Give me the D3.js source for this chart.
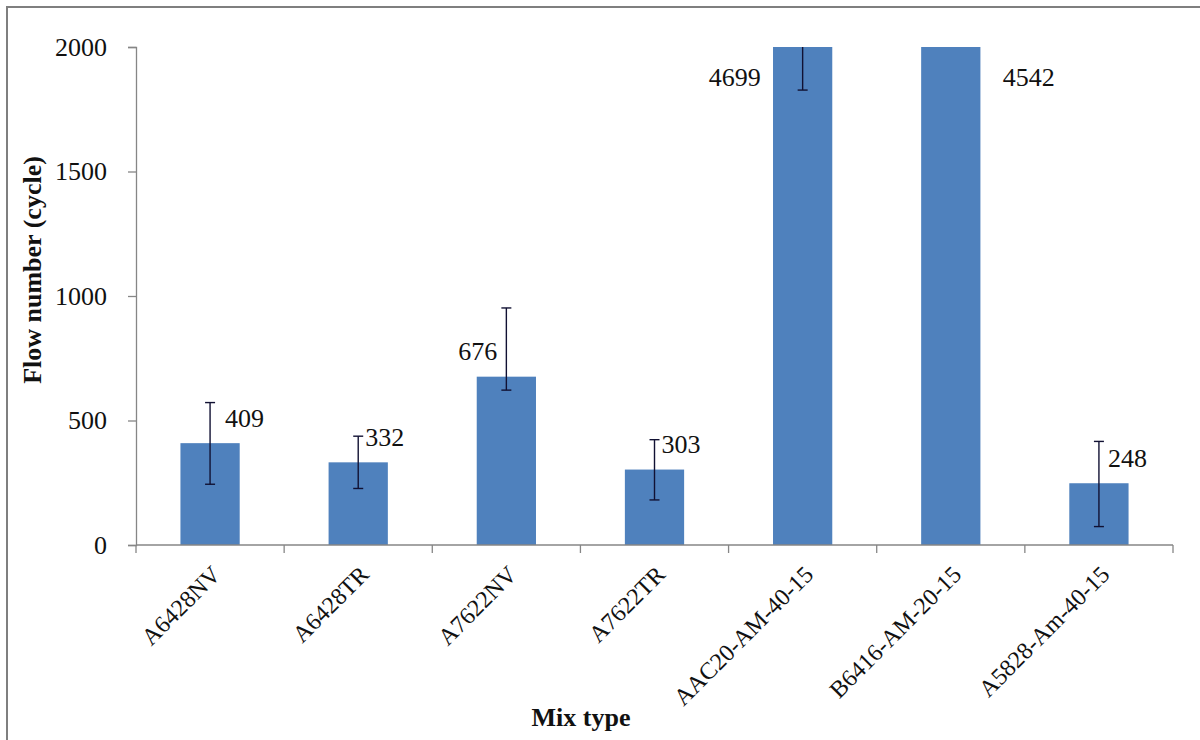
<!DOCTYPE html>
<html>
<head>
<meta charset="utf-8">
<script src="https://cdn.jsdelivr.net/npm/d3@7"></script>
<style>
  html, body { margin: 0; padding: 0; background: #fff; }
  svg { display: block; }
  svg text { font-family: "Liberation Serif", "DejaVu Serif", serif !important; }
</style>
</head>
<body>
<svg id="chart" width="1200" height="740"></svg>
<script>
// ---- data ----
const categories = ["A6428NV", "A6428TR", "A7622NV", "A7622TR", "AAC20-AM-40-15", "B6416-AM-20-15", "A5828-Am-40-15"];
const flowNumbers = [409, 332, 676, 303, 4699, 4542, 248];
const errorPlus  = [163, 105, 276, 120, 2872, 0, 168];
const errorMinus = [165, 105, 54, 122, 2872, 0, 174];
const yTicks = [0, 500, 1000, 1500, 2000];
const yTitle = "Flow number (cycle)";
const xTitle = "Mix type";

// ---- layout (not data) ----
const labelDx = [15, 7, -9, 7, -42, 52, 9];
const labelAnchor = ["start", "start", "end", "start", "end", "start", "start"];

const W = 1200, H = 740;
const plot = { left: 136, right: 1173, top: 47, bottom: 545 };
const SERIF = "'Liberation Serif', 'DejaVu Serif', serif";

const svg = d3.select("#chart");

// outer frame (only top/left visible in reference)
svg.append("rect")
  .attr("x", 7).attr("y", 7).attr("width", W + 10).attr("height", H + 10)
  .attr("fill", "#fff").attr("stroke", "#7f7f7f").attr("stroke-width", 2);

const x = d3.scaleBand().domain(categories).range([plot.left, plot.right]).paddingInner(0.6).paddingOuter(0.3);
const y = d3.scaleLinear().domain([0, 2000]).range([plot.bottom, plot.top]);

svg.append("defs").append("clipPath").attr("id", "plotclip")
  .append("rect").attr("x", plot.left).attr("y", plot.top)
  .attr("width", plot.right - plot.left).attr("height", plot.bottom - plot.top);

const data = categories.map((c, i) => ({
  c, v: flowNumbers[i], ep: errorPlus[i], em: errorMinus[i], dx: labelDx[i], anchor: labelAnchor[i]
}));

const g = svg.append("g").attr("clip-path", "url(#plotclip)");

g.selectAll("rect.bar").data(data).join("rect")
  .attr("class", "bar")
  .attr("x", d => x(d.c))
  .attr("width", x.bandwidth())
  .attr("y", d => y(Math.min(d.v, 2000)))
  .attr("height", d => y(0) - y(Math.min(d.v, 2000)))
  .attr("fill", "#4F81BD");

// error bars
const eb = g.selectAll("g.err").data(data.filter(d => d.ep > 0 || d.em > 0)).join("g").attr("class", "err");
const cx = d => x(d.c) + x.bandwidth() / 2;
eb.append("line")
  .attr("x1", cx).attr("x2", cx)
  .attr("y1", d => y(d.v + d.ep)).attr("y2", d => y(d.v - d.em))
  .attr("stroke", "#111133").attr("stroke-width", 1.4);
eb.append("line")
  .attr("x1", d => cx(d) - 5).attr("x2", d => cx(d) + 5)
  .attr("y1", d => y(d.v + d.ep)).attr("y2", d => y(d.v + d.ep))
  .attr("stroke", "#111133").attr("stroke-width", 1.4);
eb.append("line")
  .attr("x1", d => cx(d) - 5).attr("x2", d => cx(d) + 5)
  .attr("y1", d => y(d.v - d.em)).attr("y2", d => y(d.v - d.em))
  .attr("stroke", "#111133").attr("stroke-width", 1.4);

// y axis
const yAxis = d3.axisLeft(y).tickValues(yTicks).tickSize(8).tickPadding(21).tickFormat(d3.format("d"));
const ya = svg.append("g").attr("transform", `translate(${plot.left},0)`).call(yAxis)
  .attr("font-family", SERIF);
ya.select(".domain").attr("stroke", "#868686").attr("stroke-width", 1.3);
ya.selectAll(".tick line").attr("stroke", "#868686").attr("stroke-width", 1.3);
ya.selectAll(".tick text").attr("font-size", 26).attr("fill", "#111").attr("font-family", SERIF);

// x axis line + boundary ticks
svg.append("line")
  .attr("x1", plot.left).attr("x2", plot.right)
  .attr("y1", plot.bottom).attr("y2", plot.bottom)
  .attr("stroke", "#868686").attr("stroke-width", 1.3);
const step = x.step();
const boundaries = d3.range(categories.length + 1).map(i => plot.left + i * step);
svg.selectAll("line.xtick").data(boundaries).join("line")
  .attr("class", "xtick")
  .attr("x1", d => d).attr("x2", d => d)
  .attr("y1", plot.bottom).attr("y2", plot.bottom + 8)
  .attr("stroke", "#868686").attr("stroke-width", 1.3);

// category labels, rotated
svg.selectAll("text.xlab").data(categories).join("text")
  .attr("class", "xlab")
  .attr("text-anchor", "end")
  .attr("font-family", SERIF)
  .attr("font-size", 24)
  .attr("fill", "#111")
  .attr("transform", d => `translate(${x(d) + x.bandwidth() / 2 + 12},${plot.bottom + 31}) rotate(-45)`)
  .text(d => d);

// data labels
svg.selectAll("text.vlab").data(data).join("text")
  .attr("class", "vlab")
  .attr("text-anchor", d => d.anchor)
  .attr("dominant-baseline", "central")
  .attr("font-family", SERIF)
  .attr("font-size", 26)
  .attr("fill", "#111")
  .attr("x", d => cx(d) + d.dx)
  .attr("y", d => Math.max(y(Math.min(d.v, 2000)) - 25, plot.top + 30))
  .text(d => d.v);

// axis titles
svg.append("text")
  .attr("text-anchor", "middle")
  .attr("font-family", SERIF)
  .attr("font-weight", "bold")
  .attr("font-size", 26)
  .attr("fill", "#111")
  .attr("transform", `translate(41,270) rotate(-90)`)
  .text(yTitle);

svg.append("text")
  .attr("text-anchor", "middle")
  .attr("font-family", SERIF)
  .attr("font-weight", "bold")
  .attr("font-size", 26)
  .attr("fill", "#111")
  .attr("x", 581).attr("y", 726)
  .text(xTitle);
</script>
</body>
</html>
